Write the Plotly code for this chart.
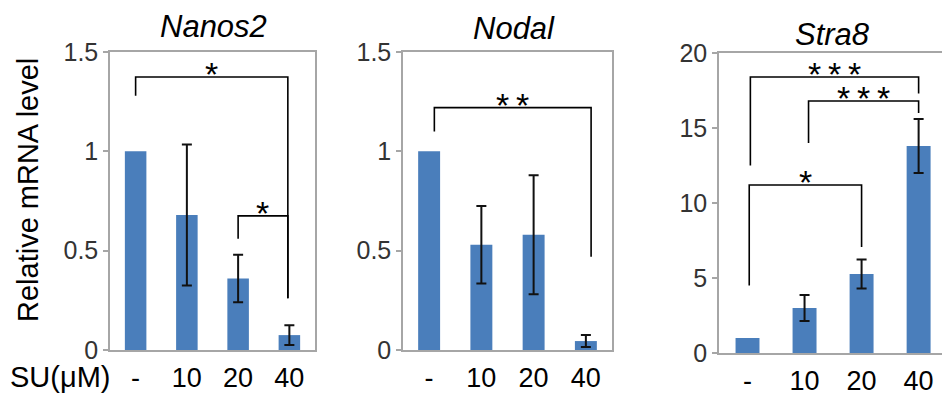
import plotly.graph_objects as go

categories = ["-", "10", "20", "40"]

nanos2_vals = [1.0, 0.68, 0.36, 0.075]
nanos2_err = [0.0, 0.355, 0.12, 0.05]
nodal_vals = [1.0, 0.53, 0.58, 0.045]
nodal_err = [0.0, 0.195, 0.30, 0.03]
stra8_vals = [1.0, 3.0, 5.27, 13.8]
stra8_err = [0.0, 0.87, 0.97, 1.8]

panel_titles = ["Nanos2", "Nodal", "Stra8"]
y_ranges = [[0, 1.5], [0, 1.5], [0, 20]]
y_dticks = [0.5, 0.5, 5]

TS = "\u2009"
# brackets: (x_left, x_right, y_top, y_left_end, y_right_end, label)
nanos2_brackets = [(0, 2.97, 1.374, 1.28, 0.26, "*"), (2.0, 2.97, 0.675, 0.56, 0.26, "*")]
nodal_brackets = [(0.1, 3.1, 1.22, 1.10, 0.47, "*" + TS + "*")]
stra8_brackets = [(0.05, 3.0, 18.4, 12.5, 17.3, "*" + TS + "*" + TS + "*"),
                  (1.07, 3.0, 16.8, 14.0, 16.0, "*" + TS + "*" + TS + "*"),
                  (0.03, 2.0, 11.2, 4.5, 7.07, "*")]

FONT = "Liberation Sans, Arial, sans-serif"
BAR = "#4a7ebb"
FRAME = "#a6a6a6"

x_domains = [[110/942, 315/942], [403/942, 612/942], [719/942, 1.0]]
y_domains = [[1-350/408, 1-52/408], [1-350/408, 1-52/408], [1-353/408, 1-53/408]]
x_ranges = [[-0.5, 3.5], [-0.5, 3.5], [-0.5, 3.41]]
title_pos = [(213, 27), (514, 29), (832, 34)]

fig = go.Figure()
vals = [nanos2_vals, nodal_vals, stra8_vals]
errs = [nanos2_err, nodal_err, stra8_err]
brackets = [nanos2_brackets, nodal_brackets, stra8_brackets]

shapes = []
annotations = []
for i in range(3):
    xa = "x" if i == 0 else f"x{i+1}"
    ya = "y" if i == 0 else f"y{i+1}"
    fig.add_trace(go.Bar(
        x=categories, y=vals[i], xaxis=xa, yaxis=ya,
        marker=dict(color=BAR, line=dict(width=0)),
        width=0.42, showlegend=False, hoverinfo="skip",
    ))
    keep = [k for k, e in enumerate(errs[i]) if e > 0]
    fig.add_trace(go.Scatter(
        x=[categories[k] for k in keep], y=[vals[i][k] for k in keep],
        xaxis=xa, yaxis=ya, mode="markers",
        marker=dict(size=1, color="rgba(0,0,0,0)"),
        error_y=dict(type="data", array=[errs[i][k] for k in keep], visible=True,
                     color="#111111", thickness=2, width=5),
        showlegend=False,
    ))
    xkey = "xaxis" if i == 0 else f"xaxis{i+1}"
    ykey = "yaxis" if i == 0 else f"yaxis{i+1}"
    fig.update_layout(**{
        xkey: dict(domain=x_domains[i], anchor=ya, range=x_ranges[i],
                   type="category", showline=True, linecolor=FRAME, linewidth=1.5,
                   mirror=True, ticks="", showgrid=False, automargin=False,
                   tickfont=dict(family=FONT, size=27, color="black"),
                   ticklabelstandoff=3),
        ykey: dict(domain=y_domains[i], anchor=xa, range=y_ranges[i],
                   dtick=y_dticks[i], showline=True, linecolor=FRAME, linewidth=1.5,
                   mirror=(i < 2), ticks="outside", ticklen=5, tickcolor=FRAME,
                   tickwidth=1.5, showgrid=False, zeroline=False, automargin=False,
                   tickfont=dict(family=FONT, size=25, color="#333333")),
    })
    for (xl, xr, yt, yle, yre, lab) in brackets[i]:
        shapes.append(dict(type="path", xref=xa, yref=ya,
                           path=f"M {xl} {yle} L {xl} {yt} L {xr} {yt} L {xr} {yre}",
                           line=dict(color="black", width=1.6)))
        annotations.append(dict(x=(xl + xr) / 2, y=yt, xref=xa, yref=ya,
                                text=lab, showarrow=False, xanchor="center",
                                yanchor="middle", yshift=3,
                                font=dict(family=FONT, size=34, color="black")))
    tx, ty = title_pos[i]
    annotations.append(dict(x=tx/942, y=1-ty/408, xref="paper", yref="paper",
                            text=f"<i>{panel_titles[i]}</i>", showarrow=False,
                            xanchor="center", yanchor="middle",
                            font=dict(family=FONT, size=31, color="black")))

annotations.append(dict(x=28/942, y=1-190/408, xref="paper", yref="paper",
                        text="Relative mRNA level", textangle=-90, showarrow=False,
                        xanchor="center", yanchor="middle",
                        font=dict(family=FONT, size=29, color="black")))
annotations.append(dict(x=8/942, y=1-377/408, xref="paper", yref="paper",
                        text="SU(μM)", showarrow=False, xanchor="left", yanchor="middle",
                        font=dict(family=FONT, size=29, color="black")))

fig.update_layout(width=942, height=408, margin=dict(l=0, r=0, t=0, b=0),
                  plot_bgcolor="white", paper_bgcolor="white",
                  shapes=shapes, annotations=annotations, bargap=0.5,
                  hovermode=False)

fig.write_html("out.html")
